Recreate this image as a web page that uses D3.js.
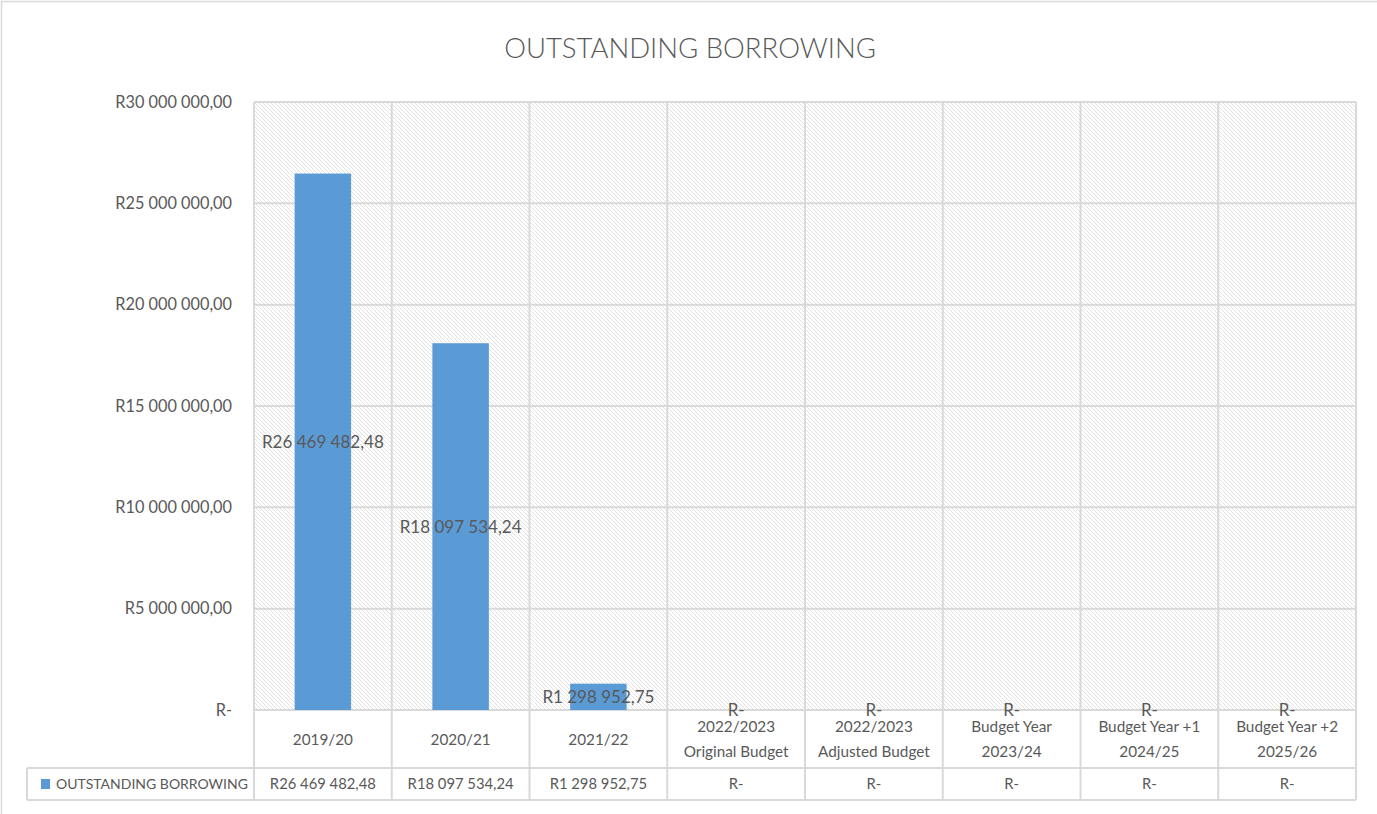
<!DOCTYPE html>
<html>
<head>
<meta charset="utf-8">
<script src="https://cdn.jsdelivr.net/npm/d3@7"></script>
<style>
  html, body { margin: 0; padding: 0; background: #fff; }
  svg text { font-family: Lato, "Open Sans", sans-serif; fill: #595959; }
</style>
</head>
<body>
<svg id="chart" width="1377" height="814"></svg>
<script>
// chart data
const chartTitle = "OUTSTANDING BORROWING";
const seriesName = "OUTSTANDING BORROWING";
const categories = [
    ["2019/20"],
    ["2020/21"],
    ["2021/22"],
    ["2022/2023", "Original Budget"],
    ["2022/2023", "Adjusted Budget"],
    ["Budget Year", "2023/24"],
    ["Budget Year +1", "2024/25"],
    ["Budget Year +2", "2025/26"]
];
const values = [26469482.48, 18097534.24, 1298952.75, 0, 0, 0, 0, 0];
const yTicks = [0, 5000000, 10000000, 15000000, 20000000, 25000000, 30000000];

const W = 1377, H = 814;
const plot = {left: 254, right: 1356, top: 102, bottom: 710};
const tableRow1 = 768, tableBottom = 800, legendLeft = 27;
const gridColor = "#d9d9d9";
const barColor = "#5b9bd5";

// rand formatting: space thousands, comma decimals, zero shown as R-
const locale = d3.formatLocale({decimal: ",", thousands: " ", grouping: [3], currency: ["R", ""]});
const money = locale.format("$,.2f");
const fmt = v => v === 0 ? "R-" : money(v);

const svg = d3.select("#chart");

// hatched plot background
const defs = svg.append("defs");
const pat = defs.append("pattern")
    .attr("id", "hatch")
    .attr("patternUnits", "userSpaceOnUse")
    .attr("width", 4).attr("height", 4);
pat.append("rect").attr("width", 4).attr("height", 4).attr("fill", "#fff");
pat.append("path")
    .attr("d", "M0,0L4,4M-1,3L1,5M3,-1L5,1")
    .attr("stroke", "#e2e2e2")
    .attr("stroke-width", 1);

// outer chart frame
svg.append("rect")
    .attr("x", 1.5).attr("y", 1.5)
    .attr("width", W + 20).attr("height", H + 20)
    .attr("fill", "none").attr("stroke", gridColor).attr("stroke-width", 1.5);

const x = d3.scaleBand()
    .domain(d3.range(categories.length))
    .range([plot.left, plot.right])
    .paddingInner(0).paddingOuter(0);

const y = d3.scaleLinear()
    .domain([0, 30000000])
    .range([plot.bottom, plot.top]);

svg.append("rect")
    .attr("x", plot.left).attr("y", plot.top)
    .attr("width", plot.right - plot.left).attr("height", plot.bottom - plot.top)
    .attr("fill", "url(#hatch)");

// horizontal gridlines
svg.append("g").selectAll("line")
    .data(yTicks)
    .join("line")
    .attr("x1", plot.left).attr("x2", plot.right)
    .attr("y1", d => y(d)).attr("y2", d => y(d))
    .attr("stroke", gridColor).attr("stroke-width", 2);

// y axis labels
const yAxis = d3.axisLeft(y).tickValues(yTicks).tickFormat(fmt).tickSize(0).tickPadding(22);
svg.append("g")
    .attr("transform", `translate(${plot.left},0)`)
    .call(yAxis)
    .call(g => g.select(".domain").remove())
    .selectAll("text")
    .style("font-size", "16.3px")
    .style("font-family", "Lato, sans-serif")
    .attr("fill", "#595959");

// vertical gridlines (plot + table)
const vLines = d3.range(categories.length + 1).map(i => i < categories.length ? x(i) : plot.right);
svg.append("g").selectAll("line")
    .data(vLines)
    .join("line")
    .attr("x1", d => d).attr("x2", d => d)
    .attr("y1", plot.top).attr("y2", tableBottom)
    .attr("stroke", gridColor).attr("stroke-width", 2);

// table horizontal lines
svg.append("line")
    .attr("x1", legendLeft).attr("x2", plot.right)
    .attr("y1", tableRow1).attr("y2", tableRow1)
    .attr("stroke", gridColor).attr("stroke-width", 2);
svg.append("line")
    .attr("x1", legendLeft).attr("x2", plot.right)
    .attr("y1", tableBottom).attr("y2", tableBottom)
    .attr("stroke", gridColor).attr("stroke-width", 2);
svg.append("line")
    .attr("x1", legendLeft).attr("x2", legendLeft)
    .attr("y1", tableRow1).attr("y2", tableBottom)
    .attr("stroke", gridColor).attr("stroke-width", 2);

// bars
const barW = x.bandwidth() * 0.41;
svg.append("g").selectAll("rect")
    .data(values)
    .join("rect")
    .attr("x", (d, i) => x(i) + (x.bandwidth() - barW) / 2)
    .attr("y", d => y(d))
    .attr("width", barW)
    .attr("height", d => y(0) - y(d))
    .attr("fill", barColor);

// data labels, centred in each bar
svg.append("g").selectAll("text")
    .data(values)
    .join("text")
    .attr("x", (d, i) => x(i) + x.bandwidth() / 2)
    .attr("y", d => (y(d) + y(0)) / 2)
    .attr("text-anchor", "middle")
    .attr("dy", "0.35em")
    .style("font-size", "17px")
    .text(d => fmt(d));

// category labels
const catG = svg.append("g").selectAll("text")
    .data(categories)
    .join("text")
    .attr("x", (d, i) => x(i) + x.bandwidth() / 2)
    .attr("y", d => d.length === 1 ? 740 : 727)
    .attr("text-anchor", "middle")
    .attr("dy", "0.35em")
    .style("font-size", "15.3px");
catG.selectAll("tspan")
    .data(d => d)
    .join("tspan")
    .attr("x", function () { return this.parentNode.getAttribute("x"); })
    .attr("dy", (d, i) => i === 0 ? "0.35em" : "25px")
    .text(d => d);

// table value row
svg.append("g").selectAll("text")
    .data(values)
    .join("text")
    .attr("x", (d, i) => x(i) + x.bandwidth() / 2)
    .attr("y", (tableRow1 + tableBottom) / 2)
    .attr("text-anchor", "middle")
    .attr("dy", "0.35em")
    .style("font-size", "14.8px")
    .text(d => fmt(d));

// legend key in table
svg.append("rect")
    .attr("x", 41).attr("y", 779)
    .attr("width", 9).attr("height", 10)
    .attr("fill", barColor);
svg.append("text")
    .attr("x", 56).attr("y", (tableRow1 + tableBottom) / 2)
    .attr("dy", "0.35em")
    .style("font-size", "14px")
    .text(seriesName);

// title
svg.append("text")
    .attr("x", 690).attr("y", 48)
    .attr("text-anchor", "middle")
    .attr("dy", "0.35em")
    .style("font-size", "27.5px")
    .style("font-weight", 300)
    .text(chartTitle);
</script>
</body>
</html>
